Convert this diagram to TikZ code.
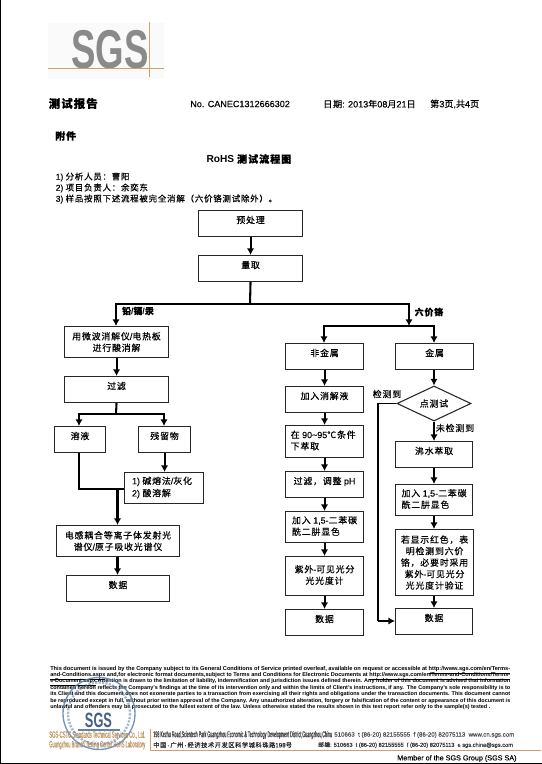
\documentclass[tikz,border=0pt]{standalone}
\usepackage{fontspec}
\usepackage{graphicx}
\usetikzlibrary{arrows.meta,shapes.geometric,calc}
\setmainfont[UprightFeatures={FakeBold=0.12}]{Liberation Sans}
\newfontfamily\cjk[LetterSpace=9,FakeBold=0.25]{Noto Sans CJK SC}
\newcommand{\zh}[1]{{\cjk #1}}
\definecolor{gold}{HTML}{C9A26E}
\definecolor{stampblue}{HTML}{5F82AE}
\definecolor{logogray}{HTML}{8A8A8A}
\definecolor{footorange}{HTML}{BE9560}
\newcommand{\fitline}[1]{\resizebox{345pt}{!}{#1}}
\tikzset{
  x=0.75pt,y=-0.75pt,
  flowbox/.style={draw=black!85,line width=0.8pt,fill=white,inner sep=0pt,align=center,font=\fontsize{6.7pt}{8.6pt}\selectfont,text=black},
  upper/.style={text height=9.6pt,text depth=10pt},
  flow/.style={line width=1.55pt,draw=black,-{Latex[length=5pt,width=5.5pt]}},
  plain/.style={line width=1.55pt,draw=black},
  lbl/.style={inner sep=0pt,font=\fontsize{6.7pt}{8pt}\selectfont,text=black},
  head/.style={inner sep=0pt,anchor=west,font=\fontsize{6.8pt}{8pt}\selectfont},
  listline/.style={inner sep=0pt,anchor=west,font=\fontsize{6.35pt}{8pt}\selectfont},
  foot/.style={inner sep=0pt,anchor=west,font=\bfseries\fontsize{4.6pt}{5pt}\selectfont},
}
\newcommand{\bx}[7][]{\node[flowbox,#1,minimum width=#6*0.75pt-#4*0.75pt,minimum height=#5*0.75pt,anchor=north west] (#2) at (#4,#3) {#7};}
\begin{document}
\begin{tikzpicture}
\useasboundingbox (0,0) rectangle (542,764);
\fill[white] (0,0) rectangle (542,764);
% frame edges from the scan
\fill[black] (0,0) rectangle (1.2,764);
\fill[black] (0,762.5) rectangle (542,764);

% logo
\fill[black!2] (48,23) rectangle (164,79);
\node[inner sep=0pt,anchor=base,xscale=0.67,text=logogray,font=\bfseries\fontsize{41pt}{41pt}\selectfont] (logo) at (110,68) {SGS};
\draw[gold,line width=0.6pt] (48,68.5) -- (164,68.5);
\draw[gold,line width=0.6pt] (149,22) -- (149,77);

% header
\node[head,font=\bfseries\fontsize{8.6pt}{10pt}\selectfont] (report) at (48.5,103.5) {{\cjk\bfseries 测试报告}};
\node[head] (no) at (190,104) {No. CANEC1312666302};
\node[head] (date) at (323,104) {\zh{日期}: 2013\zh{年}08\zh{月}21\zh{日}};
\node[head] (pg) at (430,104) {\zh{第}3\zh{页},\zh{共}4\zh{页}};
\node[head,font=\bfseries\fontsize{7.5pt}{9pt}\selectfont] (att) at (55,136) {{\cjk\bfseries 附件}};
\node[inner sep=0pt,font=\bfseries\fontsize{7.6pt}{9pt}\selectfont] (title) at (249,159) {RoHS {\cjk\bfseries 测试流程图}};
\node[listline] (l1) at (55.5,177) {1) \zh{分析人员：曹阳}};
\node[listline] (l2) at (55.5,188) {2) \zh{项目负责人：余奕东}};
\node[listline] (l3) at (55.5,199) {3) \zh{样品按照下述流程被完全消解（六价铬测试除外）。}};

% boxes: [opts] name, top, left, height, right, text
\bx[upper]{pre}{210}{198}{26}{302}{\zh{预处理}}
\bx[upper]{mea}{255}{198}{26}{302}{\zh{量取}}
\bx{mw}{326}{64}{31}{168}{\zh{用微波消解仪}/\zh{电热板}\\\zh{进行酸消解}}
\bx[upper]{fil}{376}{64}{26}{168}{\zh{过滤}}
\bx[upper]{sol}{426}{54}{26}{105}{\zh{溶液}}
\bx[upper]{res}{426}{138}{26}{190}{\zh{残留物}}
\bx{alk}{472}{124}{31}{203}{\hspace*{-3pt}\begin{tabular}{@{}l@{}}1) \zh{碱熔法}/\zh{灰化}\\[0.6pt]2) \zh{酸溶解}\end{tabular}}
\bx{icp}{525}{56}{31}{179}{\zh{电感耦合等离子体发射光}\\\zh{谱仪}/\zh{原子吸收光谱仪}}
\bx[upper]{dl}{575}{66}{26}{169}{\zh{数据}}

\bx[upper]{nm}{343}{285}{26}{363}{\zh{非金属}}
\bx[upper]{addd}{386}{285}{25}{363}{\zh{加入消解液}}
\bx{heat}{425}{285}{32}{363}{\hspace*{-2pt}\begin{tabular}{@{}l@{}}\zh{在} 90\textasciitilde95\zh{℃条件}\\\zh{下萃取}\end{tabular}}
\bx[upper]{fph}{471}{285}{26}{363}{\zh{过滤，调整} pH}
\bx{dpc}{511}{285}{31}{363}{\begin{tabular}{@{}l@{}}\zh{加入} 1,5-\zh{二苯碳}\\\zh{酰二肼显色}\end{tabular}}
\bx{uv}{556}{285}{39}{363}{\raisebox{3pt}{\begin{tabular}{@{}c@{}}\zh{紫外}-\zh{可见光分}\\\zh{光光度计}\end{tabular}}}
\bx[upper]{dm}{609}{285}{26}{363}{\zh{数据}}

\bx[upper]{met}{343}{395}{26}{473}{\zh{金属}}
\node[diamond,draw=black!85,line width=0.8pt,fill=white,aspect=2.1,inner sep=0pt,minimum width=74*0.75pt,minimum height=35*0.75pt,font=\fontsize{6.7pt}{8pt}\selectfont] (spot) at (434,403.5) {\zh{点测试}};
\bx[upper]{boil}{441}{395}{26}{472}{\zh{沸水萃取}}
\bx{dpc2}{484}{395}{31}{472}{\begin{tabular}{@{}l@{}}\zh{加入} 1,5-\zh{二苯碳}\\\zh{酰二肼显色}\end{tabular}}
\bx{red}{529}{395}{66}{473}{\zh{若显示红色，表}\\\zh{明检测到六价}\\\zh{铬，必要时采用}\\\zh{紫外}-\zh{可见光分}\\\zh{光光度计验证}}
\bx[upper]{dr}{608}{395}{26}{472}{\zh{数据}}

% junctions
\coordinate (j1) at (250,304);
\coordinate (j1l) at (116,304);
\coordinate (j1r) at (409,304);
\coordinate (j2) at (409,326);
\coordinate (j2l) at (324,326);
\coordinate (j2r) at (434,326);
\coordinate (j3) at (116,414);
\coordinate (j3l) at (79,414);
\coordinate (j3r) at (164,414);
\coordinate (j4) at (79,489);
\coordinate (j5) at (117.5,488);
\coordinate (j6) at (378,403.5);
\coordinate (j7) at (378,621);

% connectors
\draw[flow] (pre.south) -- (mea.north);
\draw[plain] (mea.south) -- (j1);
\draw[plain,line cap=rect] (j1r) -- (j1l);
\draw[flow] (j1l) -- (mw.north-|j1l);
\draw[flow] (j1r) -- (j2);
\draw[plain,line cap=rect] (j2l) -- (j2r);
\draw[flow] (j2l) -- (nm.north-|j2l);
\draw[flow] (j2r) -- (met.north-|j2r);
\draw[flow] (mw.south) -- (fil.north);
\draw[plain] (fil.south) -- (j3);
\draw[plain,line cap=rect] (j3l) -- (j3r);
\draw[flow] (j3l) -- (sol.north-|j3l);
\draw[flow] (j3r) -- (res.north-|j3r);
\draw[flow] (res.south) -- (alk.north-|res.south);
\draw[plain,line width=1.1pt] (sol.south-|j3l) -- (j4) -- (alk.west|-j4);
\draw[flow] (j5) -- (icp.north-|j5);
\draw[flow] (icp.south-|j5) -- (dl.north-|j5);
\draw[flow] (nm) -- (addd);
\draw[flow] (addd) -- (heat);
\draw[flow] (heat) -- (fph);
\draw[flow] (fph) -- (dpc);
\draw[flow] (dpc) -- (uv);
\draw[flow] (uv) -- (dm);
\draw[flow] (met.south-|spot.north) -- (spot.north);
\draw[flow] (spot.south) -- (boil.north-|spot.south);
\draw[flow] (boil.south-|spot.south) -- (dpc2.north-|spot.south);
\draw[flow] (dpc2.south-|spot.south) -- (red.north-|spot.south);
\draw[flow] (red.south-|spot.south) -- (dr.north-|spot.south);
\draw[plain,line width=1.1pt] (spot.west) -- (j6) -- (j7);
\draw[flow,line width=1.1pt] (j7) -- (dr.west|-j7);

% connector labels
\node[lbl,font=\bfseries\fontsize{6.7pt}{8pt}\selectfont] (lb1) at (138,311) {{\cjk\bfseries 铅}/{\cjk\bfseries 镉}/{\cjk\bfseries 汞}};
\node[lbl,font=\bfseries\fontsize{6.7pt}{8pt}\selectfont] (lb2) at (429,312) {{\cjk\bfseries 六价铬}};
\node[lbl] (lb3) at (387,394) {\zh{检测到}};
\node[lbl] (lb4) at (455,428) {\zh{未检测到}};

% footer text
\node[foot] (f1) at (50,670) {\fitline{This document is issued by the Company subject to its General Conditions of Service printed overleaf, available on request or accessible at \underline{http://www.sgs.com/en/Terms-}}};
\node[foot] (f2) at (50,676) {\fitline{\underline{and-Conditions.aspx} and,for electronic format documents,subject to Terms and Conditions for Electronic Documents at \underline{http://www.sgs.com/en/Terms-and-Conditions/Terms-}}};
\node[foot] (f3) at (50,682.5) {\fitline{\underline{e-Document.aspx}.Attention is drawn to the limitation of liability, indemnification and jurisdiction issues defined therein. Any holder of this document is advised that information}};
\node[foot] (f4) at (50,688.5) {\fitline{contained hereon reflects the Company's findings at the time of its intervention only and within the limits of Client's instructions, if any.\ \ The Company's sole responsibility is to}};
\node[foot] (f5) at (50,694.5) {\fitline{its Client and this document does not exonerate parties to a transaction from exercising all their rights and obligations under the transaction documents. This document cannot}};
\node[foot] (f6) at (50,701) {\fitline{be reproduced except in full, without prior written approval of the Company. Any unauthorized alteration, forgery or falsification of the content or appearance of this document is}};
\node[foot] (f7) at (50,707.5) {\resizebox{330pt}{!}{unlawful and offenders may be prosecuted to the fullest extent of the law. Unless otherwise stated the results shown in this test report refer only to the sample(s) tested .}};

% footer block
\node[inner sep=0pt,anchor=west,text=footorange,font=\fontsize{4.5pt}{5pt}\selectfont] (co1) at (49,735) {\resizebox{72pt}{5pt}{SGS-CSTC Standards Technical Services Co., Ltd.}};
\node[inner sep=0pt,anchor=west,text=footorange,font=\fontsize{4.5pt}{5pt}\selectfont] (co2) at (49,745) {\resizebox{72pt}{5pt}{Guangzhou Branch Testing Center RoHS Laboratory}};
\draw[gold,line width=0.7pt] (150,729) -- (150,750.5) -- (541,750.5);
\node[inner sep=0pt,anchor=west,font=\fontsize{4.4pt}{5pt}\selectfont,text=black!75] (ad1) at (153,735) {\resizebox{134pt}{4.6pt}{198 Kezhu Road,Scientech Park Guangzhou Economic \& Technology Development District,Guangzhou,China}};
\node[inner sep=0pt,anchor=west,font=\fontsize{5.4pt}{5pt}\selectfont,text=black!85] (ad2) at (153,745) {\resizebox{104pt}{!}{\zh{中国}\,·\,\zh{广州}\,·\,\zh{经济技术开发区科学城科珠路}198\zh{号}}};
\node[inner sep=0pt,anchor=west,font=\fontsize{4.6pt}{5pt}\selectfont,text=black!70] (ad3) at (334,735) {\resizebox{135pt}{!}{510663 \ t (86-20) 82155555 \ f (86-20) 82075113 \ www.cn.sgs.com}};
\node[inner sep=0pt,anchor=west,font=\fontsize{4.6pt}{5pt}\selectfont,text=black!80] (ad4) at (318,745) {\resizebox{146pt}{!}{\zh{邮编}: 510663 \ t (86-20) 82155555 \ f (86-20) 82075113 \ e sgs.china@sgs.com}};
\node[inner sep=0pt,anchor=west,font=\fontsize{5.4pt}{7pt}\selectfont] (mem) at (397,758.5) {Member of the SGS Group (SGS SA)};

% stamp
\draw[stampblue,line width=1pt,opacity=.85] (99,713.5) circle (36);
\draw[stampblue,line width=1.8pt,dash pattern=on 1.6pt off 1pt,opacity=.55] (99,713.5) circle (31);
\node[inner sep=0pt,text=stampblue!75!black,font=\bfseries\fontsize{15.5pt}{15.5pt}\selectfont,xscale=0.62] (stsgs) at (98.5,720.5) {SGS};
\draw[stampblue,line width=0.9pt] (78,730) -- (120,730);
\end{tikzpicture}
\end{document}
